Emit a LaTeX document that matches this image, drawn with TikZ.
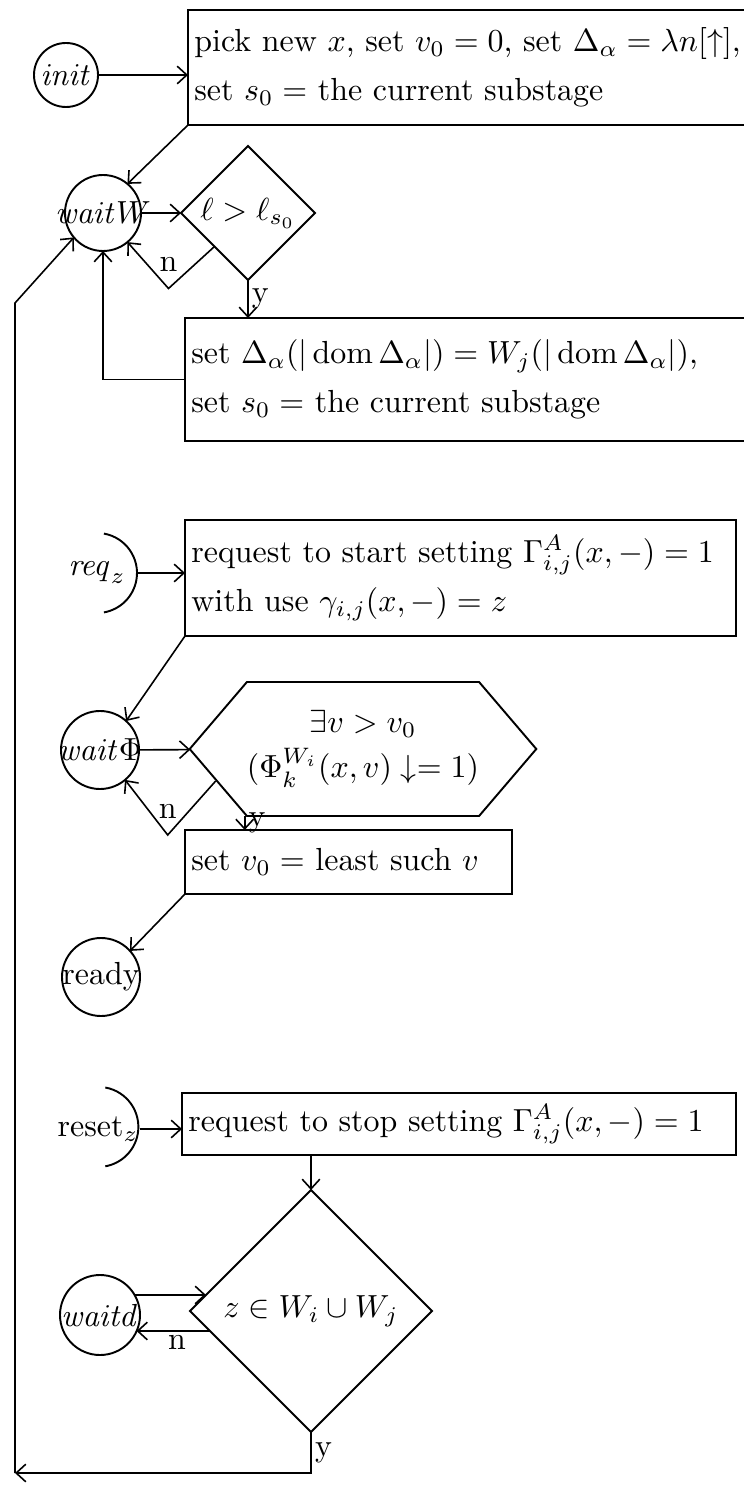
\documentclass[tikz,border=0pt]{standalone}
\usepackage{amsmath,amssymb}
\usetikzlibrary{shapes.geometric,shapes.symbols,arrows.meta,calc,positioning}
\newcommand{\pxu}{0.313pt}
\newcommand{\nb}[1]{\makebox[0pt]{#1}}
\tikzset{
  st/.style={circle,draw,inner sep=0pt,outer sep=0pt,minimum size=78*\pxu,font=\fontsize{10}{12}\selectfont},
  half/.style={circle,inner sep=0pt,outer sep=0pt,minimum size=80*\pxu,font=\fontsize{10}{12}\selectfont},
  box/.style={rectangle,draw,anchor=north west,align=left,inner sep=2pt,outer sep=0pt,font=\fontsize{10}{15.3}\selectfont},
  dec/.style={diamond,draw,aspect=1,inner sep=0pt,outer sep=0pt,font=\fontsize{10}{12}\selectfont},
  hexa/.style={signal,signal to=east and west,signal pointer angle=99,draw,inner sep=0pt,outer sep=0pt,align=center,font=\fontsize{10}{14}\selectfont},
  arr/.style={-{Straight Barb[length=3pt,width=5.5pt]},line width=0.5pt},
  lbl/.style={font=\fontsize{10}{12}\selectfont,inner sep=1pt},
}
\begin{document}
\begin{tikzpicture}[x=\pxu,y=-\pxu,line width=0.6pt]
  \useasboundingbox (0,0) rectangle (744,1485);
  \node[st,minimum size=64*\pxu] (init) at (66,75) {$\mathit{init}$};
  \node[box,text width=572*\pxu-4pt,minimum height=115*\pxu] (b1) at (188,10) {pick new $x$, set $v_0 = 0$, set $\Delta_\alpha = \lambda n[\uparrow]$,\\set $s_0 =$ the current substage};
  \node[st,minimum size=76*\pxu] (ww) at (103,213) {\nb{$\mathit{wait}W$}};
  \node[dec,minimum width=134*\pxu,minimum height=134*\pxu] (d1) at (248,213) {$\ell > \ell_{s_0}$};
  \node[box,text width=575*\pxu-4pt,minimum height=123*\pxu] (b2) at (185,318) {set $\Delta_\alpha(|\,\mathrm{dom}\,\Delta_\alpha|) = W_j(|\,\mathrm{dom}\,\Delta_\alpha|)$,\\set $s_0 =$ the current substage};
  \node[half] (rq) at (97,573) {$\mathit{req}_z$};
  \node[box,text width=551*\pxu-4pt,minimum height=116*\pxu] (b3) at (185,520) {request to start setting $\Gamma^A_{i,j}(x,-) = 1$\\with use $\gamma_{i,j}(x,-) = z$};
  \node[st] (wp) at (100,750) {\nb{$\mathit{wait}\Phi$}};
  \node[hexa,minimum width=342*\pxu,minimum height=134*\pxu] (hex) at (363,749) {$\exists v > v_0$\\$(\Phi_k^{W_i}(x,v)\downarrow= 1)$};
  \node[box,text width=327*\pxu-4pt,minimum height=64*\pxu] (b4) at (185,830) {set $v_0 =$ least such $v$};
  \node[st] (rd) at (101,977) {\nb{ready}};
  \node[half] (rs) at (98,1129) {reset$_z$};
  \node[box,text width=554*\pxu-4pt,minimum height=62*\pxu] (b5) at (182,1093) {request to stop setting $\Gamma^A_{i,j}(x,-) = 1$};
  \node[st,minimum size=80*\pxu] (wd) at (100,1315) {\nb{$\mathit{waitd}$}};
  \node[dec,minimum width=242*\pxu,minimum height=242*\pxu] (d2) at (311,1311) {$z \in W_i \cup W_j$};
  \coordinate (lb) at (15,1473);
  \coordinate (lt) at (15,303);
  \coordinate (hn) at ($(hex.west)+(26,32)$);
  \coordinate (hy) at ($(hex.west)+(55,67)$);
  \coordinate (din) at ($(d2.west)+(16,-16)$);
  \coordinate (dout) at ($(d2.west)+(20,20)$);
  \draw (rq.80) arc[start angle=80,end angle=-80,radius=40*\pxu];
  \draw (rs.80) arc[start angle=80,end angle=-80,radius=40*\pxu];
  \draw[arr] (init.east) -- (init.east -| b1.west);
  \draw[arr] (b1.south west) -- (ww.50);
  \draw[arr] (ww) -- (d1);
  \draw[arr] (d1.south west) -- ++(-46,42) node[lbl,above=4pt] {n} -- (ww.-50);
  \draw[arr] (d1.south) -- (d1.south |- b2.north) node[lbl,midway,right] {y};
  \draw[arr] (b2.west) -| (ww.south);
  \draw[arr] (rq.east) -- (rq.east -| b3.west);
  \draw[arr] (b3.south west) -- (wp.48);
  \draw[arr] (wp) -- (hex);
  \draw[arr] (hn) -- ++(-48,54) node[lbl,above=4pt] {n} -- (wp.-50);
  \draw[arr] (hy) -- (hy |- b4.north) node[lbl,midway,right] {y};
  \draw[arr] (b4.south west) -- (rd.42);
  \draw[arr] (rs.east) -- (rs.east -| b5.west);
  \draw[arr] (b5.south -| d2.north) -- (d2.north);
  \draw[arr] (wd.30) -- (wd.30 -| din);
  \draw[arr] (dout) -- (dout -| wd.-24) node[lbl,pos=.45,below] {n};
  \draw[arr] (d2.south) |- (lb) node[lbl,pos=.25,right] {y};
  \draw[arr] (lb) -- (lt) -- (ww.220);
\end{tikzpicture}
\end{document}
